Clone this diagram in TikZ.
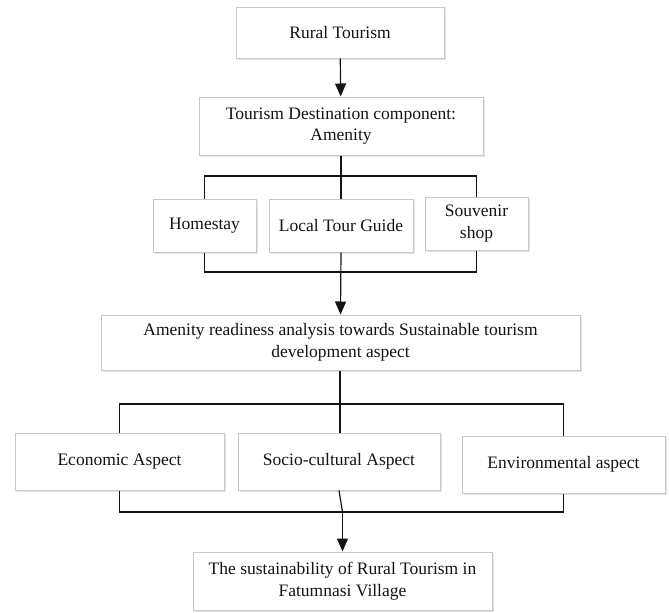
\documentclass[tikz,border=0pt]{standalone}
\usepackage{fontspec}
\setmainfont{Liberation Serif}
\usepackage{tikz}
\usetikzlibrary{arrows.meta,shadows}
\definecolor{boxline}{RGB}{200,200,200}
\definecolor{ink}{RGB}{20,20,20}

\tikzset{
  box/.style={draw=boxline, line width=1pt, fill=white, align=center,
    inner sep=2pt, text=ink, font=\fontsize{17.5}{21.5}\selectfont,
    drop shadow={shadow xshift=1.5pt, shadow yshift=-1.5pt, fill=black!10, opacity=1}},
  link/.style={draw=ink, line width=1.2pt},
  arr/.style={link, -{Triangle[width=11pt,length=13pt]}}
}

\begin{document}
\begin{tikzpicture}[x=1pt,y=-1pt]
  \useasboundingbox (0,0) rectangle (670,613);

  % Top of the chain
  \node[box, minimum width=208pt, minimum height=51pt] (rural) at (340,32.5) {Rural Tourism};
  \node[box, minimum width=284pt, minimum height=58pt] (dest) at (341,126)
    {\rule{0pt}{4pt}Tourism Destination component:\\Amenity};

  % Amenities
  \node[box, minimum width=103pt, minimum height=53pt] (home) at (204.5,225.5) {\rule{0pt}{4pt}Homestay};
  \node[box, minimum width=144pt, minimum height=53pt] (guide) at (341,225.5) {Local Tour Guide};
  \node[box, minimum width=103pt, minimum height=53pt] (souv) at (476.5,223.5) {Souvenir\\shop};

  % Analysis
  \node[box, minimum width=479pt, minimum height=55pt] (ready) at (340.5,342.5)
    {\rule{0pt}{4pt}Amenity readiness analysis towards Sustainable tourism\\development aspect};

  % Aspects
  \node[box, minimum width=209pt, minimum height=57pt] (econ) at (119.5,461.5) {Economic Aspect};
  \node[box, minimum width=202pt, minimum height=57pt] (socio) at (339,461.5) {Socio-cultural Aspect};
  \node[box, minimum width=203pt, minimum height=57pt] (env) at (563.5,464.5) {Environmental aspect};

  % Result
  \node[box, minimum width=299pt, minimum height=58pt] (sust) at (342.5,581)
    {\rule{0pt}{4pt}The sustainability of Rural Tourism in\\Fatumnasi Village};

  % Bracket joints
  \coordinate (b1) at (341,176);
  \coordinate (b2) at (341,272);
  \coordinate (b3) at (340,404);
  \coordinate (b4) at (342.5,512);

  % Connectors
  \draw[arr] (rural) -- (dest);
  \draw[link] (home.north) |- (b1) -| (souv.north);
  \draw[link] (dest.south) -- (guide.north);
  \draw[link] (home.south) |- (b2) -| (souv.south);
  \draw[arr] (guide.south) -- (ready.north);
  \draw[link] (econ.north) |- (b3) -| (env.north);
  \draw[link] (ready.south -| b3) -- (socio.north -| b3);
  \draw[link] (econ.south) |- (b4) -| (env.south);
  \draw[link] (socio.south) -- (b4);
  \draw[arr] (b4) -- (sust.north);
\end{tikzpicture}
\end{document}
